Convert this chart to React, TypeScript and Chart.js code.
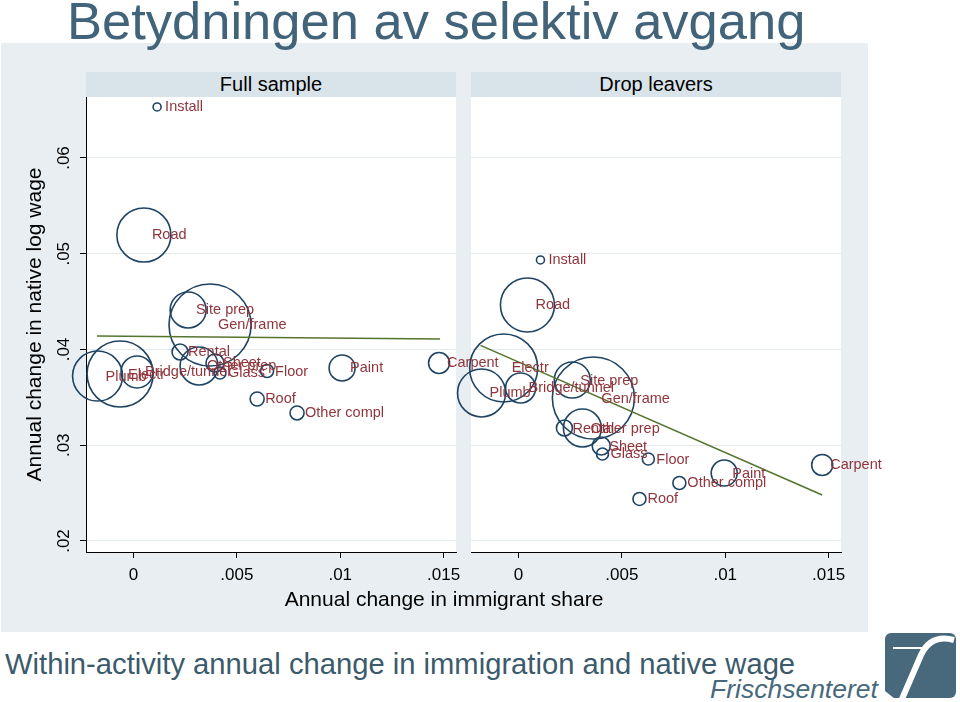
import React, { useEffect, useRef } from "react";
import { Chart, registerables } from "chart.js";

Chart.register(...registerables);

// ---------- data ----------
const industries = [
  "Install", "Road", "Site prep", "Gen/frame", "Rental", "Other prep", "Sheet", "Glass",
  "Plumb", "Electr", "Bridge/tunnel", "Floor", "Paint", "Carpent", "Roof", "Other compl",
];

// Full sample
const fullX = [0.00114, 0.0005, 0.00264, 0.0037, 0.00225, 0.00317, 0.00394, 0.00418,
  -0.00174, -0.00065, 0.00017, 0.00646, 0.01009, 0.01478, 0.00598, 0.00791];
const fullY = [0.06533, 0.05196, 0.04413, 0.04256, 0.03974, 0.03828, 0.03859, 0.03755,
  0.03723, 0.03744, 0.03765, 0.03775, 0.03807, 0.03859, 0.03483, 0.03337];
const fullSize = [4, 27, 18, 41, 8, 19, 9, 6, 25, 33, 16, 6.5, 13, 10.5, 7, 7];
const fullFitX = [-0.00177, 0.01483];
const fullFitY = [0.04141, 0.0411];

// Drop leavers
const dropX = [0.00106, 0.00043, 0.0026, 0.00362, 0.00222, 0.00309, 0.004, 0.00406,
  -0.00179, -0.00072, 0.0001, 0.00628, 0.00995, 0.01469, 0.00585, 0.00778];
const dropY = [0.04935, 0.04465, 0.03681, 0.03493, 0.0318, 0.0318, 0.02992, 0.02909,
  0.03546, 0.03807, 0.03598, 0.02856, 0.0271, 0.02794, 0.02439, 0.02606];
const dropSize = [4, 27, 18, 41, 8, 19, 9, 6, 24, 34, 15, 6, 13, 10.5, 6.5, 6.5];
const dropFitX = [-0.00184, 0.01469];
const dropFitY = [0.04043, 0.0248];

const xTicks = [0, 0.005, 0.01, 0.015];
const xTickLabels = ["0", ".005", ".01", ".015"];
const yTicks = [0.02, 0.03, 0.04, 0.05, 0.06];
const yTickLabels = [".02", ".03", ".04", ".05", ".06"];

const X_MIN = -0.0023;
const X_MAX = 0.0156;
const Y_MIN = 0.01885;
const Y_MAX = 0.06637;

// ---------- styles ----------
const FONT = '"Liberation Sans", Arial, Helvetica, sans-serif';
const NAVY = "#1f4463";
const MAROON = "#90353b";
const GREEN = "#55752f";
const GRID = "#e3ebee";
const GRAPH_BG = "#e8eef1";
const STRIP_BG = "#d9e4ea";

function makeConfig(
  xs: number[], ys: number[], rs: number[], fx: number[], fy: number[],
  showY: boolean, padding: any
): any {
  const bubbles = xs.map((x, i) => ({ x, y: ys[i], r: rs[i] }));
  const fit = fx.map((x, i) => ({ x, y: fy[i] }));

  const bgPlugin = {
    id: "plotBg",
    beforeDraw(chart: any) {
      const { ctx, chartArea: a } = chart;
      ctx.save();
      ctx.fillStyle = "#ffffff";
      ctx.fillRect(a.left, a.top, a.right - a.left, a.bottom - a.top);
      ctx.restore();
    },
  };
  const labelPlugin = {
    id: "markerLabels",
    afterDatasetsDraw(chart: any) {
      const { ctx } = chart;
      const meta = chart.getDatasetMeta(1);
      ctx.save();
      ctx.font = `14.5px ${FONT}`;
      ctx.fillStyle = MAROON;
      ctx.textBaseline = "middle";
      ctx.textAlign = "left";
      meta.data.forEach((el: any, i: number) => {
        ctx.fillText(industries[i], el.x + 8, el.y + 0.5);
      });
      ctx.restore();
    },
  };

  const yScale: any = showY
    ? {
        type: "linear",
        min: Y_MIN,
        max: Y_MAX,
        afterBuildTicks: (s: any) => { s.ticks = yTicks.map((v) => ({ value: v })); },
        ticks: {
          callback: (_v: any, i: number) => yTickLabels[i],
          minRotation: 90,
          maxRotation: 90,
          crossAlign: "center",
          padding: 4,
          color: "#000",
          font: { size: 17, family: FONT },
        },
        grid: { color: GRID, lineWidth: 1, drawTicks: true, tickLength: 6, tickColor: "#000", tickWidth: 1 },
        border: { display: true, color: "#000", width: 1 },
        title: {
          display: true,
          text: "Annual change in native log wage",
          color: "#000",
          font: { size: 21, family: FONT },
          padding: { top: 23, bottom: 0 },
        },
        afterFit: (s: any) => { s.width = 86; s.paddingTop = 0; s.paddingBottom = 0; },
      }
    : {
        type: "linear",
        min: Y_MIN,
        max: Y_MAX,
        afterBuildTicks: (s: any) => { s.ticks = yTicks.map((v) => ({ value: v })); },
        ticks: { display: false },
        grid: { color: GRID, lineWidth: 1, drawTicks: false },
        border: { display: false },
        afterFit: (s: any) => { s.width = 0; s.paddingTop = 0; s.paddingBottom = 0; },
      };

  return {
    type: "bubble",
    data: {
      datasets: [
        {
          type: "line",
          data: fit,
          borderColor: GREEN,
          borderWidth: 1.6,
          pointRadius: 0,
          fill: false,
          clip: false,
        },
        {
          type: "bubble",
          data: bubbles,
          backgroundColor: "rgba(0,0,0,0)",
          borderColor: NAVY,
          borderWidth: 1.6,
          hoverRadius: 0,
          clip: false,
        },
      ],
    },
    options: {
      responsive: false,
      animation: false,
      events: [],
      layout: { padding, autoPadding: false },
      plugins: { legend: { display: false }, tooltip: { enabled: false } },
      scales: {
        x: {
          type: "linear",
          min: X_MIN,
          max: X_MAX,
          afterBuildTicks: (s: any) => { s.ticks = xTicks.map((v) => ({ value: v })); },
          ticks: {
            callback: (_v: any, i: number) => xTickLabels[i],
            maxRotation: 0,
            autoSkip: false,
            padding: 7,
            color: "#000",
            font: { size: 17, family: FONT },
          },
          grid: { drawOnChartArea: false, drawTicks: true, tickLength: 6, tickColor: "#000", color: "#000", tickWidth: 1 },
          border: { display: true, color: "#000", width: 1 },
          afterFit: (s: any) => { s.height = 78; s.paddingLeft = 0; s.paddingRight = 0; },
        },
        y: yScale,
      },
    },
    plugins: [bgPlugin, labelPlugin],
  };
}

function Panel(props: {
  left: number; top: number; width: number; height: number; z: number;
  xs: number[]; ys: number[]; rs: number[]; fx: number[]; fy: number[];
  showY: boolean; padding: any;
}) {
  const ref = useRef<HTMLCanvasElement | null>(null);
  useEffect(() => {
    if (!ref.current) return;
    const chart = new Chart(ref.current, makeConfig(props.xs, props.ys, props.rs, props.fx, props.fy, props.showY, props.padding));
    return () => chart.destroy();
  }, []);
  return (
    <canvas
      ref={ref}
      width={props.width}
      height={props.height}
      style={{ position: "absolute", left: props.left, top: props.top, width: props.width, height: props.height, zIndex: props.z }}
    />
  );
}

function Logo() {
  return (
    <svg width={76} height={70} viewBox="0 0 76 70" style={{ position: "absolute", left: 883, top: 631 }}>
      <rect x={2} y={2} width={71} height={65} rx={6} ry={6} fill="#47697b" />
      <path d="M 71 9 C 56 5, 45 9, 38 24 L 19 68" stroke="#ffffff" strokeWidth={6} fill="none" />
      <path d="M 10 17 L 45 17" stroke="#ffffff" strokeWidth={2} fill="none" />
      <path d="M 2 60 L 12 68 L 2 68 Z" fill="#ffffff" />
    </svg>
  );
}

export default function App() {
  const stripStyle = (left: number, width: number): React.CSSProperties => ({
    position: "absolute",
    left,
    top: 72,
    width,
    height: 25,
    background: STRIP_BG,
    color: "#000",
    fontSize: 20,
    lineHeight: "25px",
    textAlign: "center",
    fontFamily: FONT,
  });

  return (
    <div style={{ position: "absolute", left: 0, top: 0, width: 960, height: 702, background: "#ffffff", overflow: "hidden", fontFamily: FONT }}>
      <div style={{ position: "absolute", left: 1, top: 43, width: 867, height: 589, background: GRAPH_BG }} />
      <div style={{ position: "absolute", left: 67, top: -5, fontSize: 52.5, lineHeight: "52px", color: "#41647a", whiteSpace: "nowrap", zIndex: 4 }}>
        Betydningen av selektiv avgang
      </div>
      <div style={stripStyle(86, 370)}>Full sample</div>
      <div style={stripStyle(471, 370)}>Drop leavers</div>

      <Panel left={440} top={90} width={520} height={540} z={1}
        xs={dropX} ys={dropY} rs={dropSize} fx={dropFitX} fy={dropFitY}
        showY={false} padding={{ left: 31, right: 119, top: 7, bottom: 0 }} />
      <Panel left={0} top={90} width={540} height={540} z={2}
        xs={fullX} ys={fullY} rs={fullSize} fx={fullFitX} fy={fullFitY}
        showY={true} padding={{ left: 0, right: 84, top: 7, bottom: 0 }} />

      <div style={{ position: "absolute", left: 0, top: 588, width: 888, textAlign: "center", fontSize: 21, lineHeight: "21px", color: "#000", zIndex: 3, whiteSpace: "nowrap" }}>
        Annual change in immigrant share
      </div>

      <div style={{ position: "absolute", left: 5, top: 650, fontSize: 29.2, lineHeight: "29px", color: "#3b5a6b", whiteSpace: "nowrap" }}>
        Within-activity annual change in immigration and native wage
      </div>
      <div style={{ position: "absolute", left: 710, top: 676, fontSize: 26.5, lineHeight: "26px", fontStyle: "italic", color: "#47697b", whiteSpace: "nowrap" }}>
        Frischsenteret
      </div>
      <Logo />
    </div>
  );
}
